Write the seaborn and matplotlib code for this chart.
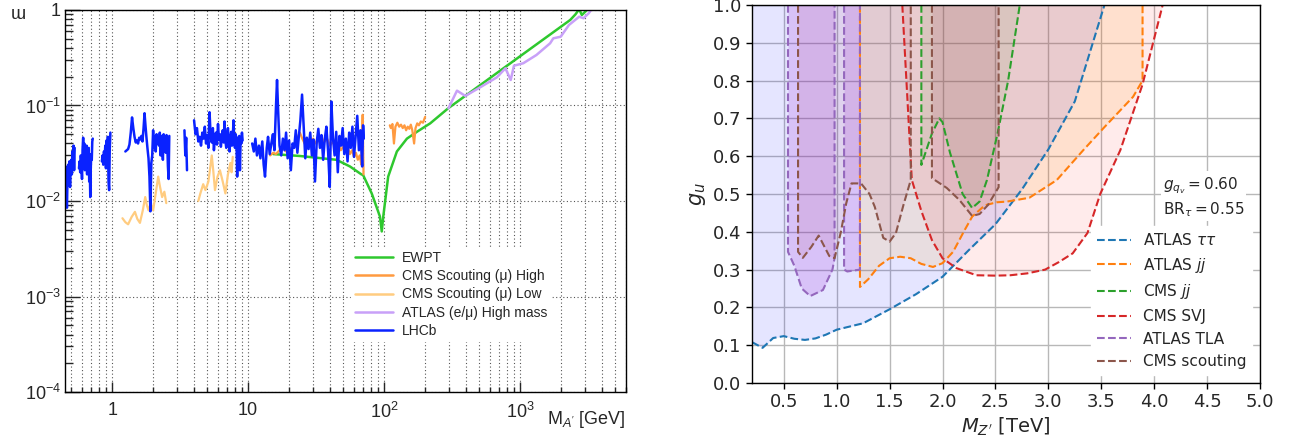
import numpy as np
import matplotlib
matplotlib.use("Agg")
import matplotlib.pyplot as plt
import seaborn as sns
from matplotlib.lines import Line2D
from matplotlib.ticker import (LogLocator, NullFormatter, FixedLocator, MultipleLocator,
                               FormatStrFormatter)

# ---------------- left panel: dark photon limits (mass [GeV], epsilon) ----------------
lhcb_seg1 = [(0.440, 0.021), (0.445, 0.025), (0.450, 0.016), (0.455, 0.023), (0.460, 0.012),
             (0.465, 0.0085), (0.470, 0.019), (0.475, 0.024), (0.480, 0.017), (0.485, 0.026),
             (0.490, 0.014), (0.495, 0.022), (0.500, 0.027), (0.505, 0.019), (0.510, 0.033),
             (0.515, 0.024), (0.520, 0.038), (0.525, 0.021), (0.530, 0.036)]
lhcb_seg2 = [(0.570, 0.022), (0.576, 0.026), (0.582, 0.020), (0.588, 0.030), (0.594, 0.024),
             (0.600, 0.017), (0.606, 0.035), (0.612, 0.046), (0.618, 0.028), (0.624, 0.040),
             (0.630, 0.021), (0.636, 0.033), (0.642, 0.027), (0.648, 0.038), (0.654, 0.019),
             (0.660, 0.029), (0.666, 0.024), (0.672, 0.036), (0.678, 0.016), (0.684, 0.026),
             (0.690, 0.011), (0.696, 0.022), (0.702, 0.031), (0.708, 0.027), (0.714, 0.042),
             (0.720, 0.045)]
lhcb_seg3 = [(0.840, 0.026), (0.850, 0.030), (0.860, 0.024), (0.870, 0.033), (0.880, 0.028),
             (0.890, 0.038), (0.900, 0.022), (0.910, 0.043), (0.920, 0.030), (0.930, 0.047),
             (0.940, 0.016), (0.950, 0.013), (0.960, 0.035), (0.970, 0.052)]
lhcb_seg4 = [(1.25, 0.033), (1.28, 0.034), (1.31, 0.035), (1.34, 0.039), (1.37, 0.052),
             (1.40, 0.075), (1.43, 0.058), (1.46, 0.047), (1.49, 0.041), (1.52, 0.043),
             (1.55, 0.040), (1.58, 0.046), (1.61, 0.044), (1.64, 0.048), (1.67, 0.042),
             (1.70, 0.057), (1.73, 0.083), (1.76, 0.060), (1.79, 0.045), (1.82, 0.035),
             (1.85, 0.028), (1.88, 0.018), (1.91, 0.0078), (1.94, 0.025), (1.97, 0.030),
             (2.00, 0.055), (2.03, 0.036), (2.06, 0.047), (2.09, 0.033), (2.12, 0.050),
             (2.15, 0.040), (2.18, 0.045), (2.21, 0.038), (2.24, 0.052), (2.27, 0.030),
             (2.30, 0.048), (2.33, 0.041), (2.36, 0.027), (2.39, 0.050), (2.42, 0.036),
             (2.45, 0.046), (2.48, 0.032), (2.51, 0.049), (2.54, 0.040), (2.57, 0.023),
             (2.60, 0.017), (2.63, 0.048)]
lhcb_seg5 = [(3.40, 0.055), (3.45, 0.030), (3.50, 0.046), (3.55, 0.021)]
lhcb_seg6 = [(4.0, 0.070), (4.1, 0.050), (4.2, 0.058), (4.3, 0.042), (4.4, 0.047), (4.5, 0.038),
             (4.6, 0.052), (4.7, 0.045), (4.8, 0.060), (4.9, 0.040), (5.0, 0.049), (5.1, 0.036),
             (5.2, 0.085), (5.3, 0.048), (5.4, 0.041), (5.5, 0.058), (5.6, 0.034), (5.7, 0.046),
             (5.8, 0.052), (5.9, 0.039), (6.0, 0.064), (6.1, 0.044), (6.2, 0.050), (6.3, 0.037),
             (6.4, 0.047), (6.5, 0.055), (6.6, 0.041), (6.7, 0.068), (6.8, 0.043), (6.9, 0.036),
             (7.0, 0.049), (7.1, 0.058), (7.2, 0.040), (7.3, 0.033), (7.4, 0.047), (7.5, 0.053),
             (7.6, 0.038), (7.7, 0.045), (7.8, 0.070), (7.9, 0.041), (8.0, 0.036), (8.1, 0.050),
             (8.2, 0.043), (8.3, 0.018), (8.4, 0.046), (8.5, 0.039), (8.6, 0.048), (8.7, 0.021),
             (8.8, 0.045), (8.9, 0.040), (9.0, 0.052), (9.1, 0.043)]
lhcb_seg7 = [(10.7, 0.040), (11.0, 0.033), (11.3, 0.045), (11.6, 0.030), (12.0, 0.038),
             (12.3, 0.028), (12.7, 0.042), (13.0, 0.024), (13.3, 0.018), (13.7, 0.036),
             (14.0, 0.047), (14.4, 0.031), (14.8, 0.040), (15.2, 0.050), (15.6, 0.034),
             (16.0, 0.095), (16.3, 0.185), (16.6, 0.090), (17.0, 0.038), (17.5, 0.030),
             (18.0, 0.045), (18.5, 0.034), (19.0, 0.052), (19.5, 0.028), (20.0, 0.043),
             (20.6, 0.021), (21.2, 0.040), (21.8, 0.036), (22.4, 0.055), (23.0, 0.032),
             (23.6, 0.048), (24.2, 0.070), (24.9, 0.130), (25.6, 0.060), (26.3, 0.028),
             (27.0, 0.046), (27.8, 0.035), (28.6, 0.052), (29.4, 0.030), (30.2, 0.044),
             (31.0, 0.016), (31.9, 0.041), (32.8, 0.057), (33.7, 0.036), (34.6, 0.049),
             (35.6, 0.027), (36.6, 0.045), (37.6, 0.060), (38.7, 0.033), (39.8, 0.014),
             (40.9, 0.110), (42.0, 0.046), (43.2, 0.030), (44.4, 0.053), (45.6, 0.020),
             (46.9, 0.048), (48.2, 0.038), (49.5, 0.058), (50.9, 0.031), (52.3, 0.045),
             (53.8, 0.026), (55.3, 0.052), (56.8, 0.036), (58.4, 0.060), (60.0, 0.029),
             (61.7, 0.048), (63.4, 0.078), (65.2, 0.034), (67.0, 0.055), (68.9, 0.023),
             (70.0, 0.062), (70.8, 0.045)]

cms_high_seg1 = [(14.5, 0.030), (15.3, 0.032), (16.0, 0.031), (17.0, 0.034), (18.0, 0.036),
                 (19.0, 0.033), (20.0, 0.035), (21.0, 0.036), (22.0, 0.040), (23.0, 0.046),
                 (24.0, 0.052), (25.0, 0.045), (26.0, 0.040), (27.0, 0.037), (28.5, 0.041),
                 (30.0, 0.045), (31.5, 0.040), (33.0, 0.043), (34.5, 0.048), (36.0, 0.041),
                 (38.0, 0.045), (40.0, 0.038), (42.0, 0.042), (44.0, 0.036), (46.0, 0.040),
                 (48.0, 0.034), (50.0, 0.037), (52.0, 0.033), (54.0, 0.036), (56.0, 0.031),
                 (58.0, 0.034), (60.0, 0.029), (62.0, 0.032), (64.0, 0.027), (66.0, 0.030),
                 (68.0, 0.024), (69.5, 0.080), (70.5, 0.019)]
cms_high_seg2 = [(110, 0.062), (112, 0.058), (115, 0.064), (118, 0.040), (121, 0.060),
                 (125, 0.066), (129, 0.060), (133, 0.063), (137, 0.058), (141, 0.062),
                 (145, 0.055), (149, 0.060), (153, 0.057), (157, 0.063), (161, 0.055),
                 (166, 0.040), (170, 0.058), (175, 0.065), (180, 0.062), (186, 0.068),
                 (193, 0.066), (200, 0.076)]

cms_low_seg1 = [(1.19, 0.0066), (1.25, 0.0060), (1.31, 0.0057), (1.39, 0.0068), (1.47, 0.0077),
                (1.53, 0.0065), (1.60, 0.0059), (1.68, 0.0080), (1.75, 0.011), (1.80, 0.0090),
                (1.85, 0.0080), (1.92, 0.0095), (2.00, 0.0080), (2.09, 0.012), (2.18, 0.018),
                (2.25, 0.014), (2.33, 0.011), (2.42, 0.0125), (2.50, 0.0095)]
cms_low_seg2 = [(4.30, 0.010), (4.45, 0.012), (4.67, 0.015), (4.85, 0.013), (5.10, 0.016),
                (5.25, 0.022), (5.40, 0.030), (5.55, 0.020), (5.70, 0.013), (5.95, 0.018),
                (6.20, 0.021), (6.50, 0.016), (6.80, 0.012), (7.10, 0.019), (7.40, 0.025),
                (7.55, 0.020), (7.70, 0.029)]

atlas_highmass = [(297, 0.0935), (343, 0.143), (395, 0.126), (508, 0.155), (673, 0.197),
                  (779, 0.245), (852, 0.185), (900, 0.261), (1054, 0.277), (1317, 0.338),
                  (1660, 0.448), (1752, 0.505), (1985, 0.525), (2284, 0.697), (2714, 0.85),
                  (2923, 0.82), (3182, 0.92), (3325, 1.0)]

ewpt = [(15.3, 0.031), (24.0, 0.0296), (44.6, 0.027), (56.0, 0.023), (68.0, 0.019),
        (70.0, 0.0187), (81.0, 0.012), (93.0, 0.0069), (96.0, 0.0048), (98.5, 0.0069),
        (107, 0.018), (124, 0.033), (147, 0.045), (174, 0.053), (218, 0.065), (297, 0.094),
        (2333, 0.786), (2550, 0.90), (2714, 1.02), (2840, 0.886), (3100, 1.0), (3300, 1.05)]

x_ticks_left = [1, 10, 100, 1000]
x_labels_left = ["1", "10", "$10^{2}$", "$10^{3}$"]
y_ticks_left = [1e-4, 1e-3, 1e-2, 1e-1, 1]
y_labels_left = ["$10^{-4}$", "$10^{-3}$", "$10^{-2}$", "$10^{-1}$", "1"]

# ---------------- right panel: Z' limits (mass [TeV], g_u) ----------------
tt_mass = [0.2, 0.3, 0.4, 0.5, 0.6, 0.7, 0.8, 0.9, 1.0, 1.25, 1.5, 1.75, 2.0, 2.25, 2.5,
           2.75, 3.0, 3.25, 3.53]
tt_gu = [0.108, 0.093, 0.119, 0.124, 0.117, 0.114, 0.118, 0.128, 0.141, 0.158, 0.195,
         0.235, 0.281, 0.352, 0.42, 0.512, 0.618, 0.745, 1.0]

jj_mass = [1.22, 1.22, 1.30, 1.40, 1.50, 1.60, 1.70, 1.80, 1.91, 2.00, 2.10, 2.20, 2.28,
           2.40, 2.51, 2.61, 2.82, 3.08, 3.33, 3.53, 3.80, 3.89, 3.89]
jj_gu = [1.0, 0.254, 0.275, 0.31, 0.33, 0.334, 0.33, 0.315, 0.307, 0.317, 0.347, 0.40,
         0.44, 0.47, 0.478, 0.48, 0.49, 0.537, 0.616, 0.677, 0.757, 0.80, 1.0]

cmsjj_mass = [1.80, 1.80, 1.90, 1.97, 2.00, 2.07, 2.19, 2.28, 2.35, 2.42, 2.52, 2.62, 2.73]
cmsjj_gu = [1.0, 0.577, 0.66, 0.70, 0.69, 0.61, 0.50, 0.463, 0.48, 0.537, 0.66, 0.80, 1.0]

svj_mass = [1.62, 1.71, 1.80, 1.90, 2.00, 2.13, 2.32, 2.50, 2.64, 2.80, 2.97, 3.10, 3.23,
            3.37, 3.49, 3.68, 3.89, 4.08]
svj_gu = [1.0, 0.537, 0.455, 0.378, 0.33, 0.304, 0.285, 0.284, 0.285, 0.29, 0.30, 0.32,
          0.343, 0.397, 0.50, 0.616, 0.79, 1.0]

tla1_mass = [0.54, 0.54, 0.60, 0.67, 0.75, 0.87, 0.96, 0.98, 0.98]
tla1_gu = [1.0, 0.347, 0.31, 0.25, 0.23, 0.246, 0.30, 0.33, 1.0]
tla2_mass = [1.07, 1.07, 1.10, 1.22, 1.22]
tla2_gu = [1.0, 0.30, 0.295, 0.30, 1.0]

scout1_mass = [0.635, 0.635, 0.68, 0.76, 0.83, 0.93, 0.98, 1.04, 1.09, 1.14, 1.23, 1.31,
               1.36, 1.44, 1.50, 1.56, 1.63, 1.70, 1.70]
scout1_gu = [1.0, 0.347, 0.331, 0.36, 0.39, 0.336, 0.33, 0.40, 0.475, 0.528, 0.528, 0.50,
             0.466, 0.384, 0.374, 0.397, 0.47, 0.537, 1.0]
scout2_mass = [1.90, 1.90, 2.04, 2.16, 2.28, 2.35, 2.43, 2.53, 2.53]
scout2_gu = [1.0, 0.542, 0.516, 0.484, 0.442, 0.447, 0.471, 0.518, 1.0]

# ---------------- style ----------------
sns.set_theme(style="ticks")
plt.rcParams["font.family"] = ["DejaVu Sans"]
plt.rcParams["mathtext.fontset"] = "custom"
plt.rcParams["mathtext.rm"] = "Liberation Sans"
plt.rcParams["mathtext.it"] = "Liberation Sans:italic"
plt.rcParams["mathtext.bf"] = "Liberation Sans:bold"

ROOT_FONT = ["Liberation Sans", "DejaVu Sans"]

fig = plt.figure(figsize=(12.95, 4.42), dpi=100)
ax1 = fig.add_axes([0.0502, 0.1131, 0.4332, 0.8643])
ax2 = fig.add_axes([0.5807, 0.1335, 0.3923, 0.8552])

# ---------------- left panel ----------------
c_ewpt = "#2ec82e"
c_high = "#ff9a40"
c_low = "#ffcc80"
c_atlas = "#c8a0f8"
c_lhcb = "#0a22ff"


def draw_pairs(ax, pairs, color, lw=1.6):
    m, e = zip(*pairs)
    sns.lineplot(x=list(m), y=list(e), ax=ax, color=color, lw=lw, sort=False,
                 estimator=None, legend=False)


ax1.set_xscale("log")
ax1.set_yscale("log")

draw_pairs(ax1, cms_low_seg1, c_low)
draw_pairs(ax1, cms_low_seg2, c_low)
draw_pairs(ax1, ewpt, c_ewpt, lw=1.8)
draw_pairs(ax1, cms_high_seg1, c_high)
draw_pairs(ax1, cms_high_seg2, c_high)
draw_pairs(ax1, atlas_highmass, c_atlas, lw=1.8)
for seg in (lhcb_seg1, lhcb_seg2, lhcb_seg3, lhcb_seg4, lhcb_seg5, lhcb_seg6, lhcb_seg7):
    draw_pairs(ax1, seg, c_lhcb, lw=1.8)

ax1.set_xlim(0.45, 6000)
ax1.set_ylim(1e-4, 1)
ax1.xaxis.set_major_locator(FixedLocator(x_ticks_left))
ax1.set_xticklabels(x_labels_left, fontsize=13, family=ROOT_FONT)
ax1.xaxis.set_minor_locator(LogLocator(base=10, subs=np.arange(2, 10), numticks=20))
ax1.xaxis.set_minor_formatter(NullFormatter())
ax1.yaxis.set_major_locator(FixedLocator(y_ticks_left))
ax1.set_yticklabels(y_labels_left, fontsize=13, family=ROOT_FONT)
ax1.yaxis.set_minor_locator(LogLocator(base=10, subs=np.arange(2, 10), numticks=20))
ax1.yaxis.set_minor_formatter(NullFormatter())
ax1.tick_params(axis="y", which="major", direction="in", length=11, width=1.0, pad=3)
ax1.tick_params(axis="y", which="minor", direction="in", length=5.5, width=1.0)
ax1.tick_params(axis="x", which="major", direction="in", length=7.5, width=1.0, pad=7)
ax1.tick_params(axis="x", which="minor", direction="in", length=3.8, width=1.0)
ax1.set_xlabel("")
ax1.set_ylabel("")
ax1.grid(which="major", axis="both", ls=(0, (1, 2.2)), color="#555555", lw=0.8)
ax1.grid(which="minor", axis="x", ls=(0, (1, 2.2)), color="#555555", lw=0.8)
for sp in ax1.spines.values():
    sp.set_color("black")
    sp.set_linewidth(1.0)

ax1.text(1.0, -0.045, "M$_{A'}$ [GeV]", transform=ax1.transAxes, ha="right", va="top",
         fontsize=13, family=ROOT_FONT)
fig.text(0.0085, 0.968, "ɯ", ha="left", va="center", fontsize=13, family=ROOT_FONT)

left_handles = [Line2D([], [], color=c, lw=1.8) for c in (c_ewpt, c_high, c_low, c_atlas, c_lhcb)]
left_labels = ["EWPT", "CMS Scouting (μ) High", "CMS Scouting (μ) Low",
               "ATLAS (e/μ) High mass", "LHCb"]
leg1 = ax1.legend(left_handles, left_labels, loc="upper left", bbox_to_anchor=(0.510, 0.378),
                  prop={"family": ROOT_FONT, "size": 10}, frameon=True, facecolor="white",
                  edgecolor="white", framealpha=1.0, fancybox=False, borderpad=0.25,
                  handlelength=2.8, handletextpad=0.6, labelspacing=0.3, borderaxespad=0)

# ---------------- right panel ----------------
c_tt, c_jj, c_cmsjj, c_svj, c_tla, c_scout = ("tab:blue", "tab:orange", "tab:green",
                                              "tab:red", "tab:purple", "tab:brown")

# excluded regions (shaded above each limit curve)
ax2.fill_between(tt_mass, tt_gu, 1.0, color="blue", alpha=0.1, lw=0)
ax2.fill_between(jj_mass, jj_gu, 1.0, color="orange", alpha=0.12, lw=0)
ax2.fill_between(cmsjj_mass, cmsjj_gu, 1.0, color="green", alpha=0.07, lw=0)
ax2.fill_between(svj_mass, svj_gu, 1.0, color="red", alpha=0.08, lw=0)
ax2.fill_between(tla1_mass, tla1_gu, 1.0, color="darkviolet", alpha=0.15, lw=0)
ax2.fill_between(tla2_mass, tla2_gu, 1.0, color="darkviolet", alpha=0.15, lw=0)
ax2.fill_between(scout1_mass, scout1_gu, 1.0, color="#b03060", alpha=0.1, lw=0)
ax2.fill_between(scout2_mass, scout2_gu, 1.0, color="#b03060", alpha=0.12, lw=0)

line_kw = dict(sort=False, estimator=None, ls="--", lw=1.5)
sns.lineplot(x=tt_mass, y=tt_gu, ax=ax2, color=c_tt, label=r"ATLAS $\tau\tau$", **line_kw)
sns.lineplot(x=jj_mass, y=jj_gu, ax=ax2, color=c_jj, label=r"ATLAS $jj$", **line_kw)
sns.lineplot(x=cmsjj_mass, y=cmsjj_gu, ax=ax2, color=c_cmsjj, label=r"CMS $jj$", **line_kw)
sns.lineplot(x=svj_mass, y=svj_gu, ax=ax2, color=c_svj, label="CMS SVJ", **line_kw)
sns.lineplot(x=tla1_mass, y=tla1_gu, ax=ax2, color=c_tla, label="ATLAS TLA", **line_kw)
sns.lineplot(x=tla2_mass, y=tla2_gu, ax=ax2, color=c_tla, legend=False, **line_kw)
sns.lineplot(x=scout1_mass, y=scout1_gu, ax=ax2, color=c_scout, label="CMS scouting", **line_kw)
sns.lineplot(x=scout2_mass, y=scout2_gu, ax=ax2, color=c_scout, legend=False, **line_kw)

ax2.set_xlim(0.2, 5.0)
ax2.set_ylim(0.0, 1.0)
ax2.xaxis.set_major_locator(MultipleLocator(0.5))
ax2.yaxis.set_major_locator(MultipleLocator(0.1))
ax2.xaxis.set_major_formatter(FormatStrFormatter("%.1f"))
ax2.yaxis.set_major_formatter(FormatStrFormatter("%.1f"))
ax2.tick_params(labelsize=13, length=4, width=1.0, color="black")
ax2.grid(True, color="#b8b8b8", lw=1.0)
for sp in ax2.spines.values():
    sp.set_color("black")
    sp.set_linewidth(1.0)
ax2.set_xlabel(r"$M_{Z'}$ [TeV]", fontsize=14, math_fontfamily="dejavusans", labelpad=3)
ax2.set_ylabel(r"$g_u$", fontsize=15, math_fontfamily="dejavusans", labelpad=4)

ax2.text(4.08, 0.492, "$g_{q_v} = 0.60$\n$\\mathrm{BR}_\\tau = 0.55$", fontsize=11,
         va="center", ha="left", math_fontfamily="dejavusans", linespacing=1.3,
         bbox=dict(facecolor="white", edgecolor="none", pad=1.5))

leg2 = ax2.legend(loc="lower right", fontsize=11, frameon=True, facecolor="white",
                  edgecolor="white", framealpha=1.0, handlelength=2.2, borderaxespad=0.5)
for t in leg2.get_texts():
    t.set_math_fontfamily("dejavusans")

fig.savefig("out.png", dpi=100)
